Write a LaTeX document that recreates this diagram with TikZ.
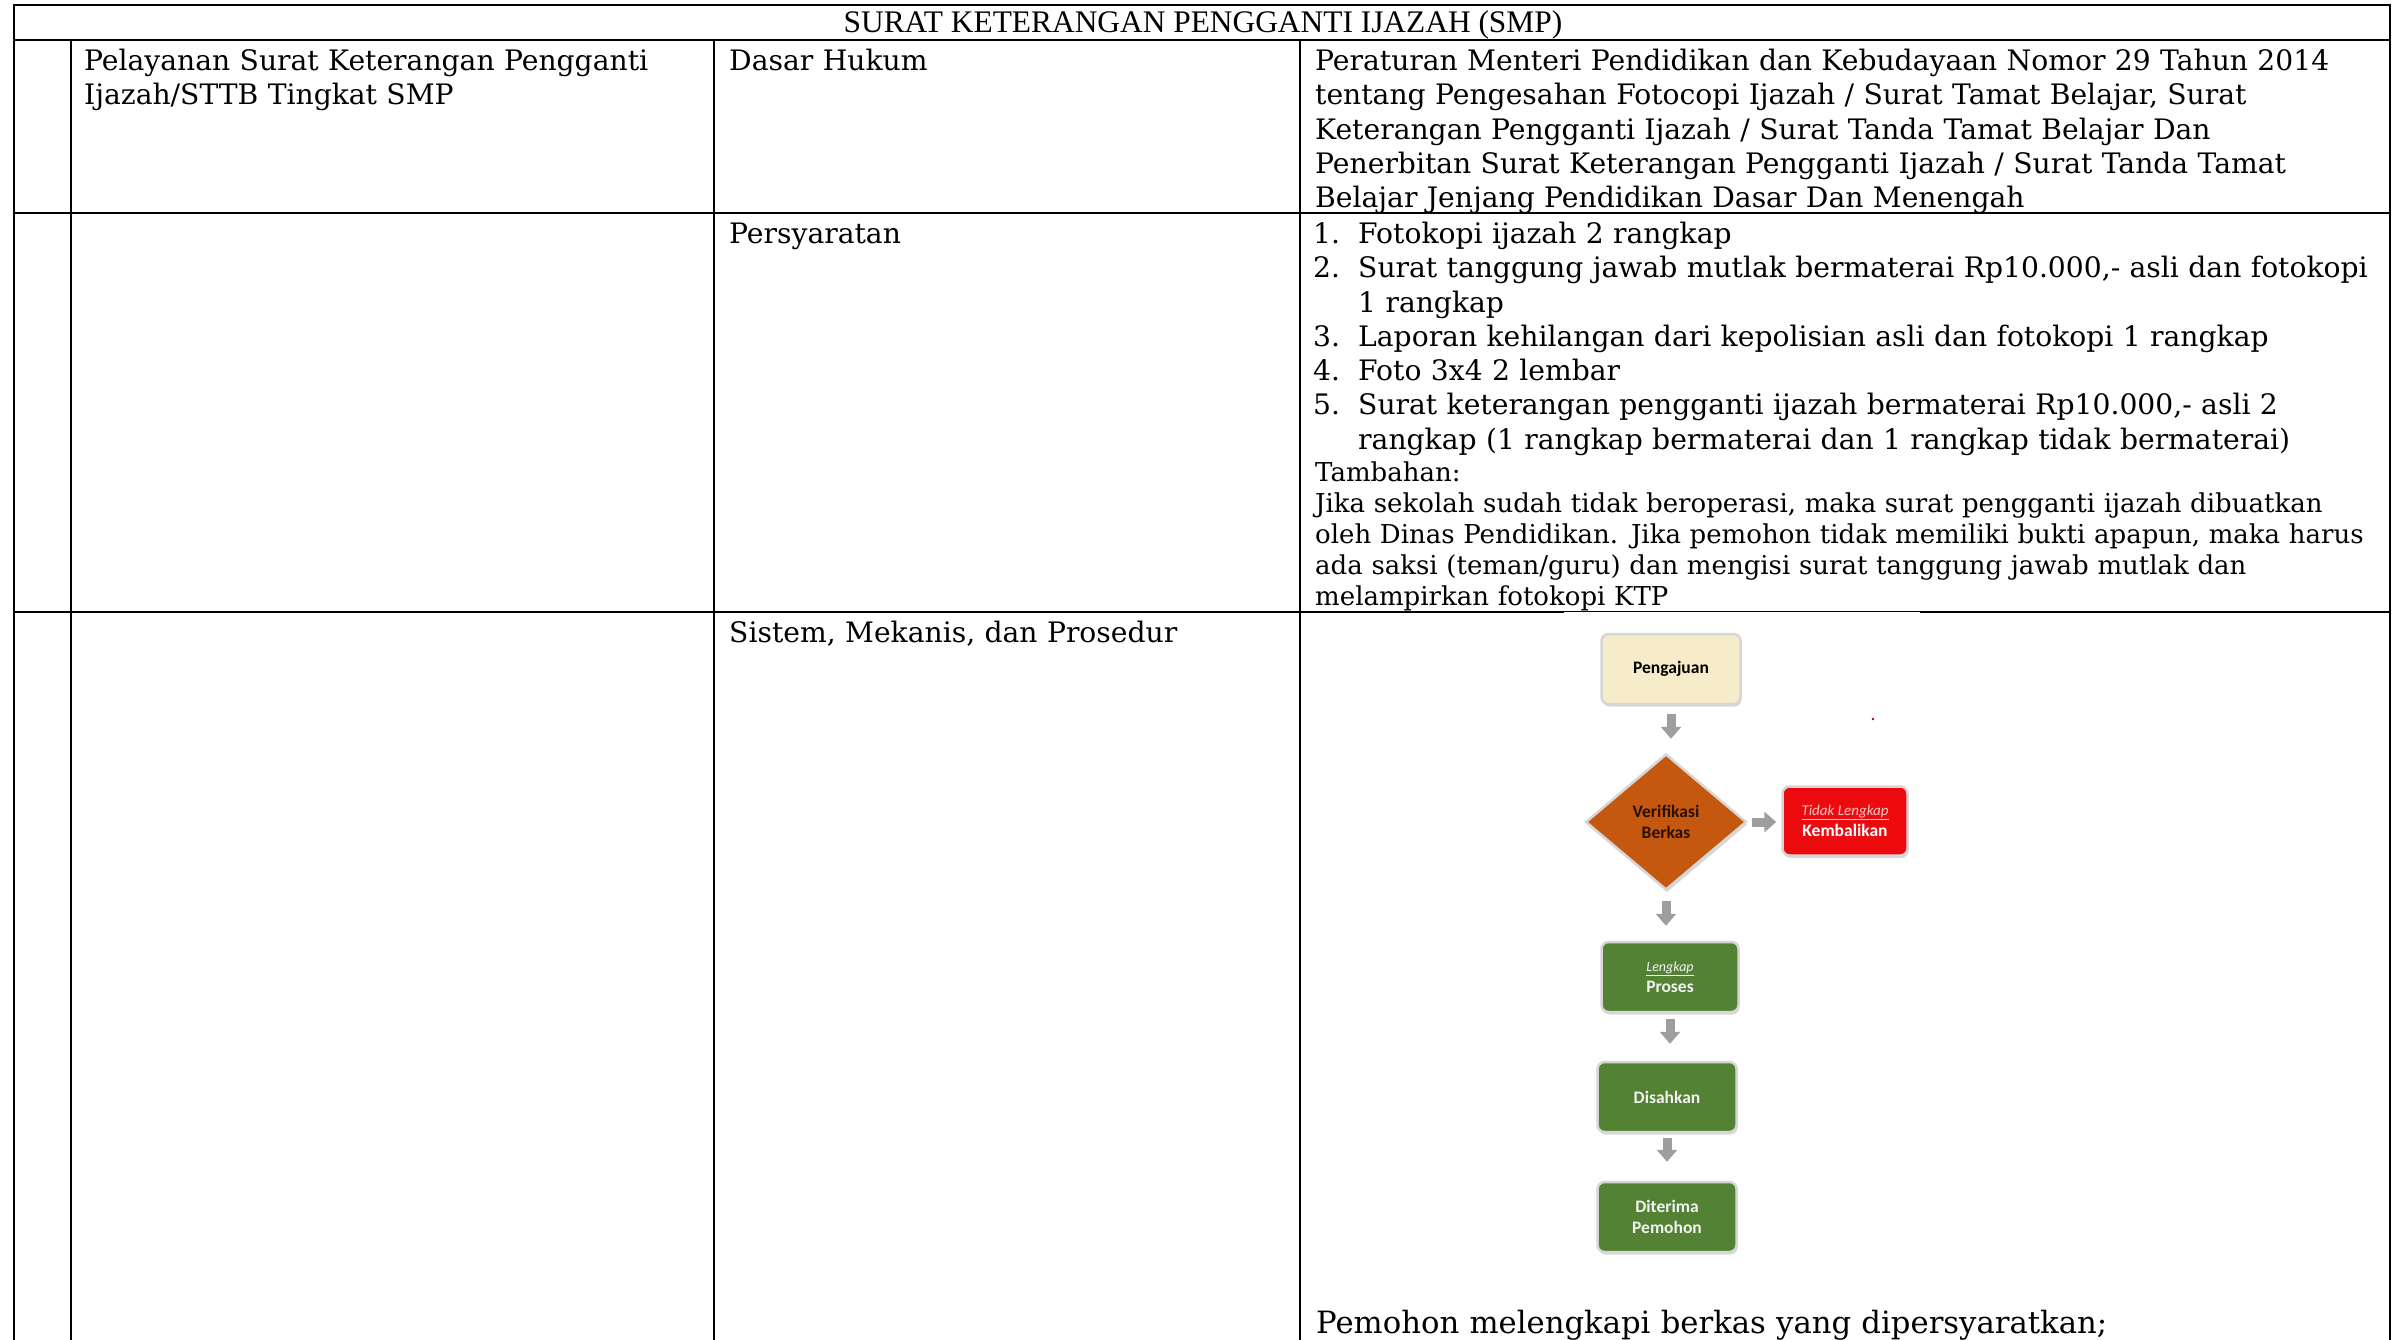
\documentclass[tikz,border=0pt]{standalone}
\usepackage{fontspec}
\setmainfont{DejaVu Serif}
\newfontfamily\titlefont{Liberation Serif}
\newfontfamily\flowfont{Carlito}
\usetikzlibrary{shapes.geometric,arrows.meta,shadows}
\definecolor{creamfill}{HTML}{F6ECC9}
\definecolor{orangefill}{HTML}{C4580F}
\definecolor{redfill}{HTML}{EC0A0F}
\definecolor{greenfill}{HTML}{548235}
\definecolor{arrowgray}{HTML}{9E9E9E}
\definecolor{glow}{HTML}{D6D6D6}
\definecolor{pinktxt}{HTML}{F8C6C6}
\definecolor{darktxt}{HTML}{2A1000}
\definecolor{lighttxt}{HTML}{F2F2F2}
\newcommand{\numitem}[1]{\makebox[45pt][l]{#1}}
\newcommand{\contind}{\hspace*{45pt}}
\begin{document}
\begin{tikzpicture}[x=1pt,y=-1pt,
  tableline/.style={line width=2.2pt, line cap=rect},
  thinline/.style={line width=1.1pt},
  cell/.style={anchor=base west, inner sep=0pt, text width=1100pt, align=left},
  maintext/.style={font=\fontsize{28.2}{34.3}\selectfont},
  smalltext/.style={font=\fontsize{26}{31}\selectfont},
  titlecell/.style={anchor=base, inner sep=0pt, font=\titlefont\fontsize{31.4}{36}\selectfont},
  flowbox/.style={rounded corners=7pt, minimum width=139pt, minimum height=70pt, inner sep=0pt,
    draw=glow, line width=2.5pt, align=center,
    font=\flowfont\bfseries\fontsize{17.5}{21}\selectfont,
    drop shadow={shadow xshift=1pt, shadow yshift=-2.5pt, opacity=0.3}},
  blk/.style={draw=arrowgray, line width=9pt, -{Triangle[width=20pt,length=12pt]}}
]
\useasboundingbox (0,0) rectangle (2398,1340);
\fill[white] (0,0) rectangle (2398,1340);

% table rules
\draw[tableline] (14,5) -- (2390,5);
\draw[tableline] (14,40) -- (2390,40);
\draw[tableline] (14,213) -- (2390,213);
\draw[tableline] (14,612) -- (1563,612);
\draw[thinline] (1563,611.5) -- (1921,611.5);
\draw[tableline] (1921,612) -- (2390,612);
\draw[tableline] (14,5) -- (14,1340);
\draw[tableline] (2390,5) -- (2390,1340);
\draw[tableline] (71,40) -- (71,1340);
\draw[tableline] (714,40) -- (714,1340);
\draw[tableline] (1300,40) -- (1300,1340);

% texts
\node[titlecell] (title) at (1203,33) {SURAT KETERANGAN PENGGANTI IJAZAH (SMP)};
\node[cell, maintext] (layanan) at (84,70.5) {Pelayanan Surat Keterangan Pengganti\\Ijazah/STTB Tingkat SMP};
\node[cell, maintext] (dasar) at (729,70.5) {Dasar Hukum};
\node[cell, maintext] (dasarisi) at (1315,70.5) {Peraturan Menteri Pendidikan dan Kebudayaan Nomor 29 Tahun 2014\\
tentang Pengesahan Fotocopi Ijazah / Surat Tamat Belajar, Surat\\
Keterangan Pengganti Ijazah / Surat Tanda Tamat Belajar Dan\\
Penerbitan Surat Keterangan Pengganti Ijazah / Surat Tanda Tamat\\
Belajar Jenjang Pendidikan Dasar Dan Menengah};
\node[cell, maintext] (syarat) at (729,243.5) {Persyaratan};
\node[cell, maintext] (syaratisi) at (1313,243.5) {\numitem{1.}Fotokopi ijazah 2 rangkap\\
\numitem{2.}Surat tanggung jawab mutlak bermaterai Rp10.000,- asli dan fotokopi\\
\contind 1 rangkap\\
\numitem{3.}Laporan kehilangan dari kepolisian asli dan fotokopi 1 rangkap\\
\numitem{4.}Foto 3x4 2 lembar\\
\numitem{5.}Surat keterangan pengganti ijazah bermaterai Rp10.000,- asli 2\\
\contind rangkap (1 rangkap bermaterai dan 1 rangkap tidak bermaterai)};
\node[cell, smalltext] (tambahan) at (1315,481) {Tambahan:\\
Jika sekolah sudah tidak beroperasi, maka surat pengganti ijazah dibuatkan\\
oleh Dinas Pendidikan. Jika pemohon tidak memiliki bukti apapun, maka harus\\
ada saksi (teman/guru) dan mengisi surat tanggung jawab mutlak dan\\
melampirkan fotokopi KTP};
\node[cell, maintext] (sistem) at (729,642.5) {Sistem, Mekanis, dan Prosedur};
\node[cell, font=\fontsize{30.7}{36}\selectfont] (pemohon) at (1316,1333) {Pemohon melengkapi berkas yang dipersyaratkan;};

% flowchart
\node[flowbox, fill=creamfill, text=black] (peng) at (1671,669) {Pengajuan};
\node[diamond, draw=glow, line width=2.5pt, fill=orangefill, minimum width=161pt, minimum height=136pt,
  inner sep=0pt, align=center, text=darktxt, font=\flowfont\bfseries\fontsize{17.5}{21}\selectfont,
  drop shadow={shadow xshift=1pt, shadow yshift=-2.5pt, opacity=0.3}] (verif) at (1666,822) {Verifikasi\\Berkas};
\node[flowbox, fill=redfill, text=white, minimum width=125pt, minimum height=69pt] (tidak) at (1845,821)
  {{\mdseries\itshape\fontsize{15}{19}\selectfont\color{pinktxt}\underline{Tidak Lengkap}}\\Kembalikan};
\node[flowbox, fill=greenfill, text=lighttxt, minimum width=137pt] (proses) at (1670,977)
  {{\mdseries\itshape\fontsize{14}{18}\selectfont\underline{Lengkap}}\\Proses};
\node[flowbox, fill=greenfill, text=lighttxt] (sah) at (1667,1097) {Disahkan};
\node[flowbox, fill=greenfill, text=lighttxt] (terima) at (1667,1217) {Diterima\\Pemohon};
\fill[red!75!black] (1873,719) circle (1.3pt);

\draw[blk, shorten <=9pt, shorten >=14pt] (peng.south) -- (peng.south |- verif.north);
\draw[blk, shorten <=4pt, shorten >=5pt] (verif.east) -- (verif.east -| tidak.west);
\draw[blk, shorten <=10pt, shorten >=15pt] (verif.south) -- (verif.south |- proses.north);
\draw[blk, shorten <=6pt, shorten >=17pt] (proses.south) -- (proses.south |- sah.north);
\draw[blk, shorten <=5pt, shorten >=19pt] (sah.south) -- (sah.south |- terima.north);
\end{tikzpicture}
\end{document}
